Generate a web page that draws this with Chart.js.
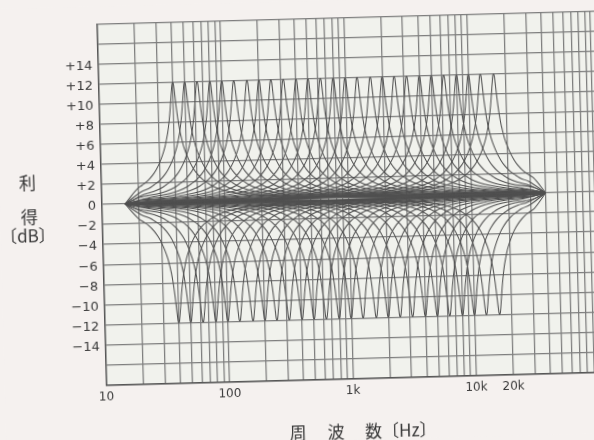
<!DOCTYPE html>
<html>
<head>
<meta charset="utf-8">
<script src="https://cdn.jsdelivr.net/npm/chart.js@4/dist/chart.umd.min.js"></script>
<style>
html,body{margin:0;padding:0;background:#f5f1ef;overflow:hidden;width:594px;height:440px;}
#stage{position:absolute;left:0;top:0;width:620px;height:440px;transform:rotate(-1.5deg);transform-origin:350px 200px;}
#c{position:absolute;left:0;top:0;background:#f5f1ef;}
.t{position:absolute;font-family:"Noto Sans CJK JP","Noto Sans",sans-serif;font-size:17px;color:#363636;line-height:1;white-space:nowrap;transform:translate(-50%,-50%);}
.tl{transform:translate(0,-50%);}
</style>
</head>
<body>
<div id="stage">
  <canvas id="c" width="620" height="440"></canvas>
  <div class="t" style="left:28px;top:173px">利</div>
  <div class="t" style="left:29px;top:207px">得</div>
  <div class="t" style="left:27px;top:226px">〔dB〕</div>
  <div class="t" style="left:292px;top:430px">周</div>
  <div class="t" style="left:330px;top:430px">波</div>
  <div class="t tl" style="left:359px;top:430px">数〔Hz〕</div>
</div>
<script>
// ---- data ----
// 1/3-octave band centres of the equalizer (Hz)
const bandCentersHz = [40, 50, 63, 80, 100, 125, 160, 200, 250, 315, 400, 500, 630, 800,
  1000, 1250, 1600, 2000, 2500, 3150, 4000, 5000, 6300, 8000, 10000, 12500, 16000];
// maximum boost / maximum cut of every band (dB)
const bandPeakDb = [12, -12];
// measured response shape of one band at full boost: distance from centre (octaves) -> gain (dB)
const shapeOctaves = [0, 0.02, 0.04, 0.06, 0.08, 0.1, 0.13, 0.167, 0.2, 0.25, 0.33, 0.42, 0.5,
  0.6, 0.75, 0.9, 1.0, 1.25, 1.5, 2, 2.5, 3, 4, 6, 9];
const shapeGainDb = [12, 11.8, 11.1, 10.3, 9.5, 8.8, 7.9, 7.0, 6.4, 5.6, 4.7, 3.9, 3.35,
  2.8, 2.2, 1.8, 1.55, 1.15, 0.9, 0.58, 0.4, 0.28, 0.15, 0.06, 0.02];
// frequencies where all curves meet at 0 dB
const curveEndsHz = [15.5, 40000];
// axes
const xTickLabels = {10: '10', 100: '100', 1000: '1k', 10000: '10k', 20000: '20k'};
const gridDecadesHz = [10, 100, 1000, 10000];
const gridSteps = [1, 2, 3, 4, 5, 6, 7, 8, 9];
const gridLastHz = 100000;
const yTicksDb = [-18, -16, -14, -12, -10, -8, -6, -4, -2, 0, 2, 4, 6, 8, 10, 12, 14, 16, 18];
const yLabelLimitDb = 14;
const xAxisMinHz = 10, xAxisMaxHz = 160000;

// ---- styles ----
const PLOT_BG = '#f1f2ed';
const GRID = '#7e7e7e';
const CURVE = '#505050';
const TEXT = '#3a3a3a';

function bandCurve(fc, peak) {
  const sign = peak / shapeGainDb[0];
  const offs = [];
  for (let i = shapeOctaves.length - 1; i > 0; i--) offs.push([-shapeOctaves[i], shapeGainDb[i]]);
  for (let i = 0; i < shapeOctaves.length; i++) offs.push([shapeOctaves[i], shapeGainDb[i]]);
  const lo = curveEndsHz[0] * Math.pow(2, 0.25), hi = curveEndsHz[1] / Math.pow(2, 0.25);
  const pts = [{x: curveEndsHz[0], y: 0}];
  for (const [d, g] of offs) {
    const f = fc * Math.pow(2, d);
    if (f > lo && f < hi) pts.push({x: f, y: g * sign});
  }
  pts.push({x: curveEndsHz[1], y: 0});
  return pts;
}

const datasets = [];
for (const peak of bandPeakDb) {
  for (const fc of bandCentersHz) {
    datasets.push({
      data: bandCurve(fc, peak),
      borderColor: CURVE,
      borderWidth: 1.05,
      pointRadius: 0,
      fill: false,
      cubicInterpolationMode: 'monotone'
    });
  }
}

const gridHz = [];
for (const d of gridDecadesHz) for (const s of gridSteps) gridHz.push(d * s);
gridHz.push(gridLastHz);

const plotBg = {
  id: 'plotBg',
  beforeDraw(chart) {
    const {ctx, chartArea: a} = chart;
    ctx.save();
    ctx.fillStyle = PLOT_BG;
    ctx.fillRect(a.left, a.top, a.right - a.left, a.bottom - a.top);
    ctx.restore();
  }
};

new Chart(document.getElementById('c'), {
  type: 'line',
  data: {datasets},
  plugins: [plotBg],
  options: {
    responsive: false,
    animation: false,
    devicePixelRatio: 1,
    layout: {padding: {left: 0, right: 0, top: 17.5, bottom: 0}},
    plugins: {legend: {display: false}, tooltip: {enabled: false}, title: {display: false}},
    scales: {
      x: {
        type: 'logarithmic',
        min: xAxisMinHz,
        max: xAxisMaxHz,
        afterBuildTicks: (s) => { s.ticks = gridHz.map(v => ({value: v})); },
        afterFit: (s) => { s.height = 61.5; },
        grid: {color: GRID, lineWidth: 1.25, drawTicks: false},
        border: {color: '#555', width: 1.4},
        ticks: {
          autoSkip: false, maxRotation: 0, minRotation: 0, padding: 5,
          color: TEXT, font: {family: 'DejaVu Sans', size: 12},
          callback: (v) => xTickLabels[v] || ''
        }
      },
      y: {
        type: 'linear',
        min: yTicksDb[0],
        max: yTicksDb[yTicksDb.length - 1],
        afterBuildTicks: (s) => { s.ticks = yTicksDb.map(v => ({value: v})); },
        afterFit: (s) => { s.width = 101.5; },
        grid: {color: GRID, lineWidth: 1.25, drawTicks: false},
        border: {color: '#555', width: 1.4},
        ticks: {
          autoSkip: false, padding: 5.5, labelOffset: 2,
          color: TEXT, font: {family: 'DejaVu Sans', size: 13},
          callback: (v) => Math.abs(v) > yLabelLimitDb ? '' : (v > 0 ? '+' + v : (v < 0 ? '\u2212' + (-v) : '0'))
        }
      }
    }
  }
});
</script>
</body>
</html>
